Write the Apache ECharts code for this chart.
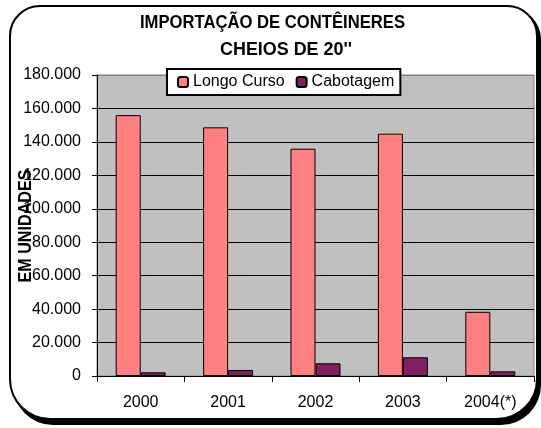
<!DOCTYPE html>
<html>
<head>
<meta charset="utf-8">
<script src="https://cdn.jsdelivr.net/npm/echarts@6/dist/echarts.min.js"></script>
<style>
  html, body { margin: 0; padding: 0; background: #fff; }
  #chart { width: 541px; height: 428px; }
</style>
</head>
<body>
<div id="chart"></div>
<script>
  // anos
  var categories = ['2000', '2001', '2002', '2003', '2004(*)'];
  // contêineres de 20'' importados, em unidades
  var longoCurso = [156000, 148700, 135900, 144900, 38400];
  var cabotagem = [2200, 3600, 7600, 11200, 2800];
  var yTicks = [0, 20000, 40000, 60000, 80000, 100000, 120000, 140000, 160000, 180000];
  var titleLines = ['IMPORTAÇÃO DE CONTÊINERES', 'CHEIOS DE 20\'\''];
  var yName = 'EM UNIDADES';

  var fontFam = '"Liberation Sans", Arial, sans-serif';
  var boldFont = 'bold 18px "Liberation Sans", Arial, sans-serif';

  function fmt(v) {
    return String(v).replace(/\B(?=(\d{3})+(?!\d))/g, '.');
  }

  // o texto original é bem comprimido, entao achata na horizontal
  var ctx = document.createElement('canvas').getContext('2d');
  function squeeze(text, font, target) {
    ctx.font = font;
    return target / ctx.measureText(text).width;
  }

  function squishedText(text, x, y, target, rot) {
    return {
      type: 'text',
      z: 10,
      x: x,
      y: y,
      rotation: rot || 0,
      scaleX: squeeze(text, boldFont, target),
      style: {
        text: text,
        font: boldFont,
        fill: '#000',
        align: 'center',
        verticalAlign: 'middle'
      }
    };
  }

  var myChart = echarts.init(document.getElementById('chart'));
  myChart.setOption({
    backgroundColor: '#fff',
    animation: false,
    graphic: [
      {
        type: 'rect', z: -10,
        shape: {x: 13, y: 9, width: 528, height: 416, r: [30, 30, 40, 40]},
        style: {fill: '#000'}
      },
      {
        type: 'rect', z: -9,
        shape: {x: 10, y: 6, width: 527, height: 413, r: [30, 30, 40, 40]},
        style: {fill: '#fff', stroke: '#000', lineWidth: 2}
      },
      squishedText(titleLines[0], 272.5, 23, 265),
      squishedText(titleLines[1], 286, 50, 132),
      squishedText(yName, 26, 226, 113, Math.PI / 2)
    ],
    legend: {
      data: ['Longo Curso', 'Cabotagem'],
      left: 167,
      top: 69,
      padding: [5, 6, 5, 10],
      itemGap: 11,
      itemWidth: 10,
      itemHeight: 10,
      backgroundColor: '#fff',
      borderColor: '#000',
      borderWidth: 2,
      borderRadius: 0,
      textStyle: {fontFamily: fontFam, fontSize: 16, color: '#000'}
    },
    grid: {
      left: 97,
      right: 7,
      top: 75,
      bottom: 52,
      show: true,
      backgroundColor: '#C0C0C0',
      borderColor: '#808080',
      borderWidth: 1
    },
    xAxis: {
      type: 'category',
      data: categories,
      axisLine: {lineStyle: {color: '#000', width: 1}},
      axisTick: {show: true, length: 6, lineStyle: {color: '#000'}},
      axisLabel: {margin: 19, fontFamily: fontFam, fontSize: 16, color: '#000'}
    },
    yAxis: {
      type: 'value',
      min: yTicks[0],
      max: yTicks[yTicks.length - 1],
      interval: 20000,
      axisLine: {show: true, lineStyle: {color: '#000', width: 1}},
      axisTick: {show: true, length: 5, lineStyle: {color: '#000'}},
      axisLabel: {
        margin: 16,
        fontFamily: fontFam,
        fontSize: 16,
        color: '#000',
        formatter: function (v) { return fmt(v); }
      },
      splitLine: {
        show: true,
        lineStyle: {
          color: ['#000', '#000', '#000', '#000', '#000', '#000', '#000', '#000', '#000', '#808080'],
          width: 1
        }
      }
    },
    series: [
      {
        name: 'Longo Curso',
        type: 'bar',
        data: longoCurso,
        barWidth: 25,
        barGap: '0%',
        itemStyle: {color: '#FF8080', borderColor: '#000', borderWidth: 1}
      },
      {
        name: 'Cabotagem',
        type: 'bar',
        data: cabotagem,
        barWidth: 25,
        barGap: '0%',
        itemStyle: {color: '#802060', borderColor: '#000', borderWidth: 1}
      }
    ]
  });
</script>
</body>
</html>
